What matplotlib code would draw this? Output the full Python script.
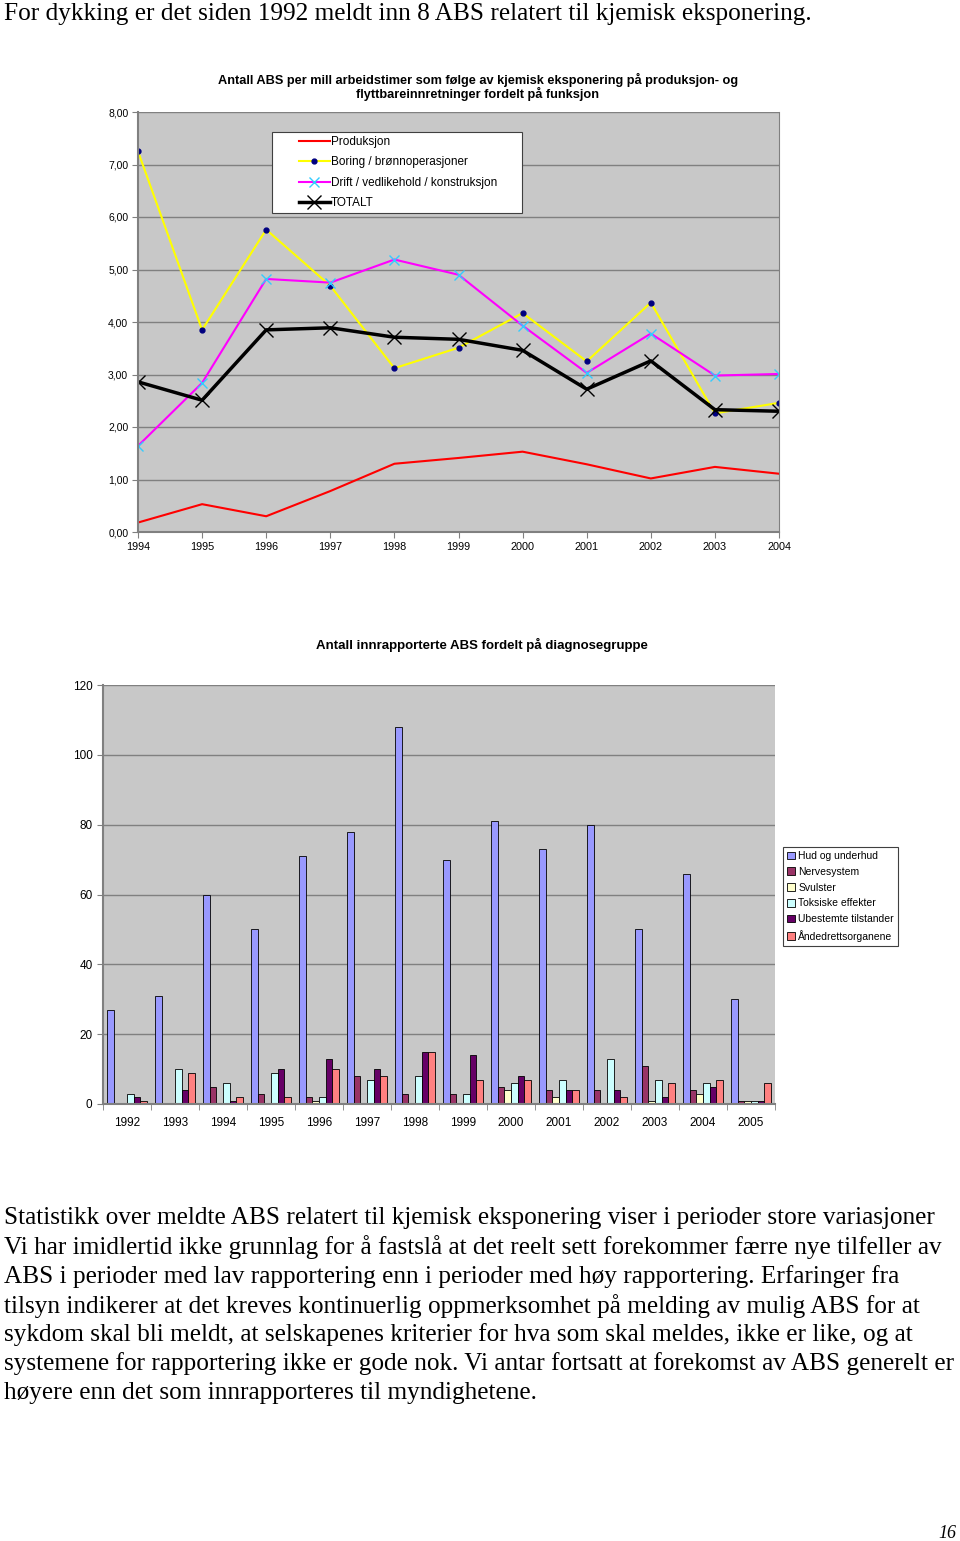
import matplotlib.pyplot as plt
from matplotlib.patches import Rectangle
import numpy as np

# --- data: ABS per mill arbeidstimer ---
years_line = [1994, 1995, 1996, 1997, 1998, 1999, 2000, 2001, 2002, 2003, 2004]
produksjon = [0.18, 0.53, 0.30, 0.78, 1.30, 1.41, 1.53, 1.29, 1.02, 1.24, 1.11]
boring = [7.25, 3.85, 5.76, 4.69, 3.12, 3.51, 4.17, 3.25, 4.37, 2.26, 2.46]
drift = [1.64, 2.84, 4.82, 4.75, 5.19, 4.90, 3.93, 3.03, 3.78, 2.98, 3.01]
totalt = [2.86, 2.51, 3.85, 3.89, 3.71, 3.67, 3.46, 2.72, 3.26, 2.33, 2.30]

# --- data: ABS per diagnosegruppe ---
years_bar = [1992, 1993, 1994, 1995, 1996, 1997, 1998, 1999, 2000, 2001, 2002, 2003, 2004, 2005]
hud = [27, 31, 60, 50, 71, 78, 108, 70, 81, 73, 80, 50, 66, 30]
nerve = [0, 0, 5, 3, 2, 8, 3, 3, 5, 4, 4, 11, 4, 1]
svulster = [0, 0, 0, 0, 1, 0, 0, 0, 4, 2, 0, 1, 3, 1]
toksiske = [3, 10, 6, 9, 2, 7, 8, 3, 6, 7, 13, 7, 6, 1]
ubestemte = [2, 4, 1, 10, 13, 10, 15, 14, 8, 4, 4, 2, 5, 1]
andedrett = [1, 9, 2, 2, 10, 8, 15, 7, 7, 4, 2, 6, 7, 6]

bar_labels = ["Hud og underhud", "Nervesystem", "Svulster", "Toksiske effekter",
              "Ubestemte tilstander", "Åndedrettsorganene"]
bar_colors = ["#9999FF", "#993366", "#FFFFCC", "#CCFFFF", "#660066", "#FF8080"]

W, H = 960, 1541
fig = plt.figure(figsize=(W / 100, H / 100), dpi=100)
plt.rcParams['font.family'] = ['Liberation Sans', 'DejaVu Sans']


def rect(left, top, right, bottom):
    return [left / W, 1 - bottom / H, (right - left) / W, (bottom - top) / H]


serif = ['Liberation Serif', 'DejaVu Serif']
grid_col = "#808080"
bg_col = "#C8C8C8"

fig.text(4 / W, 1 - 14 / H,
         "For dykking er det siden 1992 meldt inn 8 ABS relatert til kjemisk eksponering.",
         family=serif, fontsize=18.2, va='center', ha='left')

# -------------------------
# Line chart
# -------------------------
ax1 = fig.add_axes(rect(138, 112, 779, 532))
ax1.set_facecolor(bg_col)
ax1.plot(years_line, produksjon, color="#FF0000", lw=1.5, label="Produksjon")
ax1.plot(years_line, boring, color="#FFFF00", lw=1.5, marker='o', ms=3.5,
         mfc="#000080", mec="#000080", label="Boring / brønnoperasjoner")
ax1.plot(years_line, drift, color="#FF00FF", lw=1.5, marker='x', ms=7,
         mec="#33CCFF", mew=1, label="Drift / vedlikehold / konstruksjon")
ax1.plot(years_line, totalt, color="#000000", lw=2.5, marker='x', ms=10,
         mew=1, label="TOTALT")
ax1.set_xlim(1994, 2004)
ax1.set_ylim(0, 8)
ax1.set_xticks(years_line)
ax1.set_xticklabels([str(y) for y in years_line], fontsize=7.8)
ax1.set_yticks(np.arange(0, 9))
ax1.set_yticklabels(["%d,00" % v for v in range(9)], fontsize=7.5)
ax1.yaxis.grid(True, color=grid_col, lw=1)
ax1.set_axisbelow(True)
ax1.tick_params(length=4, color=grid_col, pad=3)
for s in ax1.spines.values():
    s.set_color(grid_col)
ax1.spines['top'].set_visible(False)
ax1.spines['left'].set_linewidth(1.5)
ax1.spines['bottom'].set_linewidth(1.5)

# legend box drawn separately to get the wide left margin
box = Rectangle((272 / W, 1 - 213 / H), 250 / W, 81 / H, transform=fig.transFigure,
                facecolor="white", edgecolor="#404040", lw=0.8, zorder=4)
ax1.add_artist(box)
box.set_clip_on(False)
leg1 = ax1.legend(loc='upper left', bbox_to_anchor=(299 / W, 1 - 136 / H),
                  bbox_transform=fig.transFigure,
                  fontsize=8.5, frameon=False, handlelength=2.6, handletextpad=0.1,
                  borderpad=0, labelspacing=0.72, borderaxespad=0)
leg1.set_zorder(5)
fig.text(478 / W, 1 - 80 / H,
         "Antall ABS per mill arbeidstimer som følge av kjemisk eksponering på produksjon- og",
         ha='center', va='center', fontsize=9.2, fontweight='bold')
fig.text(478 / W, 1 - 94 / H, "flyttbareinnretninger fordelt på funksjon",
         ha='center', va='center', fontsize=9.2, fontweight='bold')

# -------------------------
# Bar chart
# -------------------------
ax2 = fig.add_axes(rect(103, 685, 775, 1104))
ax2.set_facecolor(bg_col)
series = [hud, nerve, svulster, toksiske, ubestemte, andedrett]
x = np.arange(len(years_bar))
bw = 0.14
for i, (vals, col, lab) in enumerate(zip(series, bar_colors, bar_labels)):
    ax2.bar(x - 2.5 * bw + i * bw, vals, width=bw, color=col, edgecolor="#000000",
            lw=0.6, label=lab)
ax2.set_xlim(-0.5, len(years_bar) - 0.5)
ax2.set_ylim(0, 120)
ax2.set_yticks(np.arange(0, 121, 20))
ax2.set_yticklabels([str(v) for v in range(0, 121, 20)], fontsize=8.5)
ax2.set_xticks(x)
ax2.set_xticklabels([str(y) for y in years_bar], fontsize=8.5)
ax2.tick_params(axis='x', length=0, pad=9)
ax2.set_xticks(np.arange(-0.5, len(years_bar)), minor=True)
ax2.tick_params(axis='x', which='minor', length=4, color=grid_col)
ax2.tick_params(axis='y', length=4, color=grid_col)
ax2.yaxis.grid(True, color=grid_col, lw=1)
ax2.set_axisbelow(True)
for s in ax2.spines.values():
    s.set_color(grid_col)
ax2.spines['top'].set_visible(False)
ax2.spines['right'].set_visible(False)
ax2.spines['left'].set_linewidth(1.5)
ax2.spines['bottom'].set_linewidth(1.5)
h2, l2 = ax2.get_legend_handles_labels()
leg2 = ax2.legend(h2, l2, loc='upper left', bbox_to_anchor=(783 / W, 1 - 847 / H),
                  bbox_transform=fig.transFigure,
                  fontsize=7.5, frameon=True, fancybox=False, framealpha=1,
                  edgecolor="#404040", handlelength=0.75, handleheight=0.75,
                  handletextpad=0.3, borderpad=0.4, labelspacing=0.55,
                  borderaxespad=0)
leg2.get_frame().set_linewidth(0.8)
fig.text(482 / W, 1 - 645 / H, "Antall innrapporterte ABS fordelt på diagnosegruppe",
         ha='center', va='center', fontsize=9.5, fontweight='bold')

# -------------------------
# Body text
# -------------------------
body = [
    "Statistikk over meldte ABS relatert til kjemisk eksponering viser i perioder store variasjoner",
    "Vi har imidlertid ikke grunnlag for å fastslå at det reelt sett forekommer færre nye tilfeller av",
    "ABS i perioder med lav rapportering enn i perioder med høy rapportering. Erfaringer fra",
    "tilsyn indikerer at det kreves kontinuerlig oppmerksomhet på melding av mulig ABS for at",
    "sykdom skal bli meldt, at selskapenes kriterier for hva som skal meldes, ikke er like, og at",
    "systemene for rapportering ikke er gode nok. Vi antar fortsatt at forekomst av ABS generelt er",
    "høyere enn det som innrapporteres til myndighetene.",
]
for k, line in enumerate(body):
    fig.text(4 / W, 1 - (1218 + 29.2 * k) / H, line, family=serif, fontsize=18.2,
             va='center', ha='left')

fig.text(956 / W, 1 - 1533 / H, "16", family=serif, style='italic', fontsize=13,
         ha='right', va='center')

fig.savefig("out.png", dpi=100)
